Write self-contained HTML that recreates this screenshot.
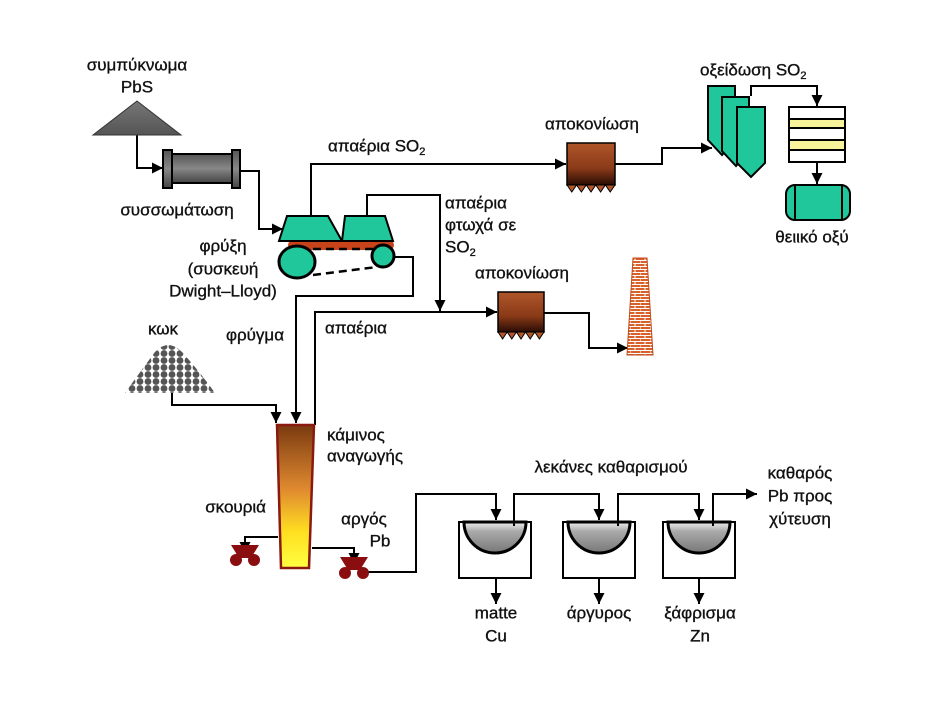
<!DOCTYPE html>
<html><head><meta charset="utf-8"><style>
html,body{margin:0;padding:0;background:#fff;}
svg{display:block;}
text{font-family:"Liberation Sans","DejaVu Sans",sans-serif;font-size:17px;fill:#111;stroke:#111;stroke-width:0.35;dominant-baseline:middle;}
</style></head><body>
<svg width="932" height="720" viewBox="0 0 932 720" xmlns="http://www.w3.org/2000/svg">
<defs>
<marker id="a" viewBox="0 0 10 10" refX="10" refY="5" markerWidth="12" markerHeight="11" orient="auto" markerUnits="userSpaceOnUse"><path d="M0,0L10,5L0,10z" fill="#000"/></marker>
<linearGradient id="rust" x1="0" y1="0" x2="0" y2="1"><stop offset="0" stop-color="#b0562a"/><stop offset="0.6" stop-color="#8a3a18"/><stop offset="1" stop-color="#2a0c04"/></linearGradient>
<linearGradient id="furn" x1="0" y1="0" x2="0" y2="1"><stop offset="0" stop-color="#7a3a10"/><stop offset="0.45" stop-color="#e08a30"/><stop offset="0.75" stop-color="#ffe020"/><stop offset="1" stop-color="#ffff40"/></linearGradient>
<linearGradient id="drum" x1="0" y1="0" x2="0" y2="1"><stop offset="0" stop-color="#555"/><stop offset="0.5" stop-color="#888"/><stop offset="1" stop-color="#444"/></linearGradient>
<linearGradient id="bowl" x1="0" y1="0" x2="0" y2="1"><stop offset="0" stop-color="#eee"/><stop offset="0.3" stop-color="#aaa"/><stop offset="1" stop-color="#777"/></linearGradient>
<linearGradient id="tri" x1="0" y1="0" x2="0" y2="1"><stop offset="0" stop-color="#777"/><stop offset="1" stop-color="#555"/></linearGradient>
<pattern id="brick" width="10" height="6" patternUnits="userSpaceOnUse"><rect width="10" height="6" fill="#d8602a"/><path d="M0,5.5H10M5,0V3M0,3V6" stroke="#fff" stroke-width="1"/><path d="M0,2.5H10" stroke="#fff" stroke-width="1"/></pattern>
<pattern id="coke" width="8" height="7" patternUnits="userSpaceOnUse"><rect width="8" height="7" fill="#fff"/><circle cx="4" cy="3.5" r="3.4" fill="#555"/></pattern>
</defs>
<g stroke="#000" stroke-width="2" fill="none">
<path d="M137,135V168H163" marker-end="url(#a)"/>
<path d="M240,171H259V229H283" marker-end="url(#a)"/>
<path d="M311,216V164H566" marker-end="url(#a)"/>
<path d="M367,216V195H440V311" marker-end="url(#a)"/>
<path d="M393,257H413V296H296V423" marker-end="url(#a)"/>
<path d="M315,425V312H497" marker-end="url(#a)"/>
<path d="M172,393V405H276V423" marker-end="url(#a)"/>
<path d="M615,164H662V148H712" marker-end="url(#a)"/>
<path d="M751,96V86H817V106" marker-end="url(#a)"/>
<path d="M817,162V184" marker-end="url(#a)"/>
<path d="M543,313H589V348H628" marker-end="url(#a)"/>
<path d="M278,537H245V553" marker-end="url(#a)"/>
<path d="M312,548H354V564" marker-end="url(#a)"/>
<path d="M360,572H416V494H496V520" marker-end="url(#a)"/>
<path d="M514,525V494H599V520" marker-end="url(#a)"/>
<path d="M618,525V494H699V520" marker-end="url(#a)"/>
<path d="M713,525V494H757" marker-end="url(#a)"/>
<path d="M496,578V604" marker-end="url(#a)"/>
<path d="M599,578V604" marker-end="url(#a)"/>
<path d="M699,578V604" marker-end="url(#a)"/>
</g>
<polygon points="137,101 93,135 181,135" fill="url(#tri)" stroke="#333" stroke-width="1"/>
<rect x="171" y="154" width="62" height="29" fill="url(#drum)" stroke="#000" stroke-width="2"/>
<rect x="163" y="150" width="9" height="38" fill="url(#drum)" stroke="#000" stroke-width="2"/>
<rect x="232" y="150" width="8" height="38" fill="url(#drum)" stroke="#000" stroke-width="2"/>
<rect x="288" y="240" width="106" height="10" rx="5" fill="#c8421a"/>
<line x1="300" y1="249" x2="380" y2="249" stroke="#000" stroke-width="2.5" stroke-dasharray="8,5"/>
<line x1="313" y1="275" x2="377" y2="267" stroke="#000" stroke-width="2.5" stroke-dasharray="8,5"/>
<polygon points="287,216 328,216 342,241 279,241" fill="#1fc79a" stroke="#000" stroke-width="2"/>
<polygon points="345,216 385,216 393,241 342,241" fill="#1fc79a" stroke="#000" stroke-width="2"/>
<ellipse cx="297" cy="262" rx="18" ry="16" fill="#1fc79a" stroke="#000" stroke-width="3"/>
<circle cx="383" cy="256" r="11" fill="#1fc79a" stroke="#000" stroke-width="3"/>
<rect x="567" y="143" width="48" height="42" fill="url(#rust)" stroke="#000" stroke-width="1.5"/>
<path d="M567,185 l4.8,7 l4.8,-7 l4.8,7 l4.8,-7 l4.8,7 l4.8,-7 l4.8,7 l4.8,-7 l4.8,7 l4.8,-7z" fill="#b0562a" stroke="#000" stroke-width="1"/>
<rect x="498" y="292" width="46" height="40" fill="url(#rust)" stroke="#000" stroke-width="1.5"/>
<path d="M498,332 l4.6,7 l4.6,-7 l4.6,7 l4.6,-7 l4.6,7 l4.6,-7 l4.6,7 l4.6,-7 l4.6,7 l4.6,-7z" fill="#b0562a" stroke="#000" stroke-width="1"/>
<polygon points="633,258 647,258 653,355 627,355" fill="url(#brick)" stroke="#c04a1a" stroke-width="1"/>
<g fill="#1fc79a" stroke="#000" stroke-width="2">
<path d="M708,86H735V140L722,155L708,140Z"/>
<path d="M722,97H749V151L736,166L722,151Z"/>
<path d="M737,107H765V163L751,177L737,163Z"/>
</g>
<rect x="789" y="107" width="56" height="55" fill="#fff" stroke="#000" stroke-width="2"/>
<rect x="789" y="119" width="56" height="9" fill="#f6f39a" stroke="#000" stroke-width="2"/>
<rect x="789" y="140" width="56" height="10" fill="#f6f39a" stroke="#000" stroke-width="2"/>
<rect x="786" y="185" width="64" height="35" rx="9" fill="#1fc79a" stroke="#000" stroke-width="2"/>
<line x1="795" y1="185" x2="795" y2="220" stroke="#000" stroke-width="2"/>
<line x1="842" y1="185" x2="842" y2="220" stroke="#000" stroke-width="2"/>
<path d="M125,393 Q140,372 155,352 Q168,338 182,352 Q200,372 215,393 Z" fill="url(#coke)"/>
<polygon points="277,425 314,425 309,568 281,568" fill="url(#furn)" stroke="#8a1a10" stroke-width="2.5"/>
<g fill="#8a0e10">
<polygon points="231,545 259,545 251,558 239,558"/><circle cx="236" cy="560" r="6"/><circle cx="254" cy="560" r="6"/>
<polygon points="340,557 368,557 360,570 348,570"/><circle cx="345" cy="573" r="6"/><circle cx="363" cy="573" r="6"/>
</g>
<g stroke="#000" stroke-width="2">
<rect x="459" y="522" width="72" height="56" fill="#fff"/>
<path d="M464,522 A31,31 0 0 0 526,522 Z" fill="url(#bowl)" stroke-width="3"/>
<rect x="563" y="522" width="72" height="56" fill="#fff"/>
<path d="M568,522 A31,31 0 0 0 630,522 Z" fill="url(#bowl)" stroke-width="3"/>
<rect x="663" y="522" width="72" height="56" fill="#fff"/>
<path d="M668,522 A31,31 0 0 0 730,522 Z" fill="url(#bowl)" stroke-width="3"/>
</g>
<line x1="514" y1="494" x2="514" y2="526" stroke="#000" stroke-width="2"/>
<line x1="618" y1="494" x2="618" y2="526" stroke="#000" stroke-width="2"/>
<line x1="713" y1="494" x2="713" y2="526" stroke="#000" stroke-width="2"/>
<text x="137" y="66" text-anchor="middle">συμπύκνωμα</text>
<text x="137" y="88" text-anchor="middle">PbS</text>
<text x="177" y="211" text-anchor="middle">συσσωμάτωση</text>
<text x="223" y="247" text-anchor="middle">φρύξη</text>
<text x="223" y="270" text-anchor="middle">(συσκευή</text>
<text x="223" y="292" text-anchor="middle">Dwight–Lloyd)</text>
<text x="328" y="147">απαέρια SO<tspan font-size="11" dy="5">2</tspan></text>
<text x="445" y="204">απαέρια</text>
<text x="445" y="226">φτωχά σε</text>
<text x="445" y="248">SO<tspan font-size="11" dy="5">2</tspan></text>
<text x="592" y="125" text-anchor="middle">αποκονίωση</text>
<text x="522" y="274" text-anchor="middle">αποκονίωση</text>
<text x="700" y="71">οξείδωση SO<tspan font-size="11" dy="5">2</tspan></text>
<text x="812" y="238" text-anchor="middle">θειικό οξύ</text>
<text x="163" y="330" text-anchor="middle">κωκ</text>
<text x="255" y="336" text-anchor="middle">φρύγμα</text>
<text x="325" y="329">απαέρια</text>
<text x="327" y="436">κάμινος</text>
<text x="327" y="457">αναγωγής</text>
<text x="266" y="508" text-anchor="end">σκουριά</text>
<text x="364" y="520" text-anchor="middle">αργός</text>
<text x="380" y="542" text-anchor="middle">Pb</text>
<text x="611" y="468" text-anchor="middle">λεκάνες καθαρισμού</text>
<text x="800" y="474" text-anchor="middle">καθαρός</text>
<text x="800" y="497" text-anchor="middle">Pb προς</text>
<text x="800" y="520" text-anchor="middle">χύτευση</text>
<text x="496" y="614" text-anchor="middle">matte</text>
<text x="496" y="637" text-anchor="middle">Cu</text>
<text x="599" y="614" text-anchor="middle">άργυρος</text>
<text x="700" y="614" text-anchor="middle">ξάφρισμα</text>
<text x="700" y="637" text-anchor="middle">Zn</text>
</svg>
</body></html>
